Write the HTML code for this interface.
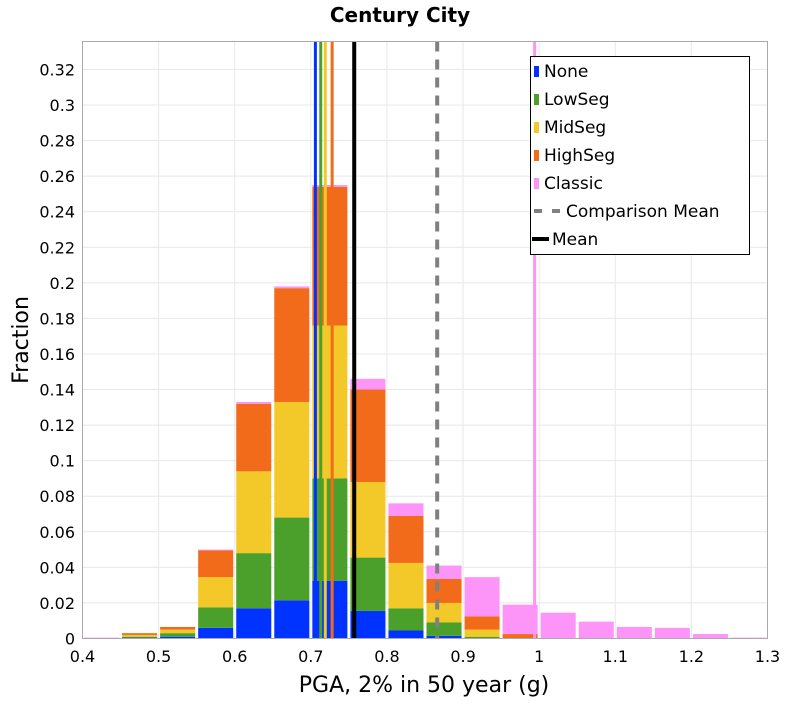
<!DOCTYPE html>
<html><head><meta charset="utf-8"><style>
body{margin:0;background:#fff;}
svg text{font-family:"DejaVu Sans","Liberation Sans",sans-serif;}
</style></head><body>
<svg id="chart" width="800" height="700" xmlns="http://www.w3.org/2000/svg">
<text x="400" y="22" text-anchor="middle" font-size="20" font-weight="bold">Century City</text>
<g id="grid"></g><g id="bars"></g><g id="lines"></g>
<rect x="82.5" y="41.5" width="685" height="597" fill="none" stroke="#aaa"/>
<g id="axes"></g>
<text x="424" y="692" text-anchor="middle" font-size="22">PGA, 2% in 50 year (g)</text>
<text transform="translate(28,340) rotate(-90)" text-anchor="middle" font-size="22">Fraction</text>
<g>
<rect x="530.5" y="56.5" width="219" height="198" fill="#fff" stroke="#000"/>
<rect x="534" y="66" width="5" height="11" fill="#0033ff"/><text x="544" y="77" font-size="17">None</text>
<rect x="534" y="94" width="5" height="11" fill="#4aa02a"/><text x="544" y="105" font-size="17">LowSeg</text>
<rect x="534" y="122" width="5" height="11" fill="#f2c928"/><text x="544" y="133" font-size="17">MidSeg</text>
<rect x="534" y="150" width="5" height="11" fill="#f26b1a"/><text x="544" y="161" font-size="17">HighSeg</text>
<rect x="534" y="178" width="5" height="11" fill="#fc95f7"/><text x="544" y="189" font-size="17">Classic</text>
<line x1="534" x2="542" y1="211" y2="211" stroke="#808080" stroke-width="4"/><line x1="552" x2="560" y1="211" y2="211" stroke="#808080" stroke-width="4"/><text x="566" y="217" font-size="17">Comparison Mean</text>
<line x1="532" x2="549" y1="239" y2="239" stroke="#000" stroke-width="4"/><text x="552" y="245" font-size="17">Mean</text>
</g>
</svg>
<script>
const binStarts=[0.40,0.45,0.50,0.55,0.60,0.65,0.70,0.75,0.80,0.85,0.90,0.95,1.00,1.05,1.10,1.15,1.20,1.25];
const noneVals=[0,0.0005,0.001,0.006,0.017,0.0215,0.0325,0.0155,0.0045,0.0015,0,0,0,0,0,0,0,0];
const lowVals=[0,0.0005,0.002,0.0115,0.031,0.0465,0.0575,0.03,0.0125,0.0075,0.001,0,0,0,0,0,0,0];
const midVals=[0,0.001,0.002,0.017,0.046,0.065,0.086,0.0425,0.0255,0.011,0.004,0,0,0,0,0,0,0];
const highVals=[0,0.001,0.0015,0.015,0.038,0.064,0.078,0.052,0.0265,0.0135,0.0075,0.0025,0,0,0,0,0,0];
const classicVals=[0.0005,0,0,0.0005,0.001,0.001,0.001,0.006,0.007,0.0075,0.022,0.0165,0.0145,0.0095,0.0065,0.006,0.0025,0.0005];
const seriesNames=["none","lowseg","midseg","highseg","classic"];
const meanNone=0.706, meanLow=0.713, meanMid=0.719, meanHigh=0.728, meanAll=0.757, meanComparison=0.866, meanClassic=0.994;
const xTicks=[0.4,0.5,0.6,0.7,0.8,0.9,1,1.1,1.2,1.3];
const yTicks=[0,0.02,0.04,0.06,0.08,0.1,0.12,0.14,0.16,0.18,0.2,0.22,0.24,0.26,0.28,0.3,0.32];
const binWidth=0.05;
const NS="http://www.w3.org/2000/svg";
const X0=82.5,X1=767.5,Y0=638.5,Y1=41.5,xmin=0.4,xmax=1.3,ymin=0,ymax=0.3357;
const xs=v=>X0+(v-xmin)/(xmax-xmin)*(X1-X0);
const ys=v=>Y0-(v-ymin)/(ymax-ymin)*(Y0-Y1);
function mk(t,a,p){const e=document.createElementNS(NS,t);for(const k in a)e.setAttribute(k,a[k]);p.appendChild(e);return e;}
const grid=document.getElementById('grid'),axes=document.getElementById('axes'),bars=document.getElementById('bars'),lines=document.getElementById('lines');
xTicks.forEach(t=>{const g=mk('line',{x1:xs(t),x2:xs(t),y1:Y1,y2:Y0,stroke:'#e8e8e8'},grid);


const tx=mk('text',{x:xs(t),y:662,'text-anchor':'middle','font-size':16},axes);tx.textContent=String(t);

});
yTicks.forEach(t=>{const g=mk('line',{x1:X0,x2:X1,y1:ys(t),y2:ys(t),stroke:'#e8e8e8'},grid);


const tx=mk('text',{x:75,y:ys(t)+6,'text-anchor':'end','font-size':16},axes);tx.textContent=String(t);

});
const series=[noneVals,lowVals,midVals,highVals,classicVals];
const colors=["#0033ff","#4aa02a","#f2c928","#f26b1a","#fc95f7"];
binStarts.forEach((b,i)=>{let cum=0;series.forEach((s,j)=>{const v=s[i];if(v<=0)return;
const x=xs(b)+1.5,w=xs(b+binWidth)-xs(b)-3;const yt=ys(cum+v),yb=ys(cum);
const r=mk('rect',{x:x,y:yt,width:w,height:Math.max(yb-yt,0.8),fill:colors[j]},bars);


cum+=v;});});
function vline(v,color,w,dash,name){const l=mk('line',{x1:xs(v),x2:xs(v),y1:Y1,y2:Y0,stroke:color,'stroke-width':w},lines);
if(dash)l.setAttribute('stroke-dasharray',dash);

}
vline(meanNone,'#0033ff',3,null,'mean-line-none');
vline(meanLow,'#4aa02a',3,null,'mean-line-lowseg');
vline(meanMid,'#f2c928',3,null,'mean-line-midseg');
vline(meanHigh,'#f26b1a',3,null,'mean-line-highseg');
vline(meanClassic,'#fc95f7',3,null,'mean-line-classic');
vline(meanComparison,'#808080',4,'10,8','comparison-mean-line');
vline(meanAll,'#000',4,null,'mean-line');
</script>
</body></html>
